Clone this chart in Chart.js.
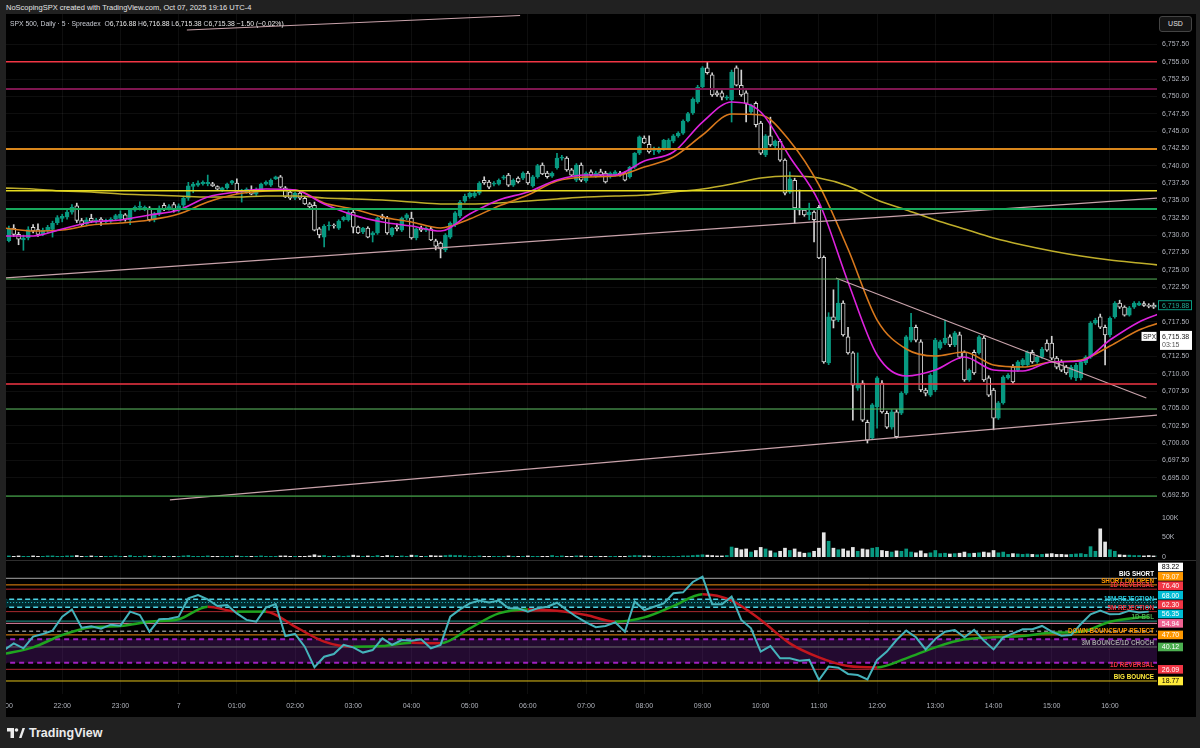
<!DOCTYPE html>
<html>
<head>
<meta charset="utf-8">
<title>SPX 500 5m</title>
<script src="https://cdn.jsdelivr.net/npm/chart.js@4.4.1/dist/chart.umd.min.js"></script>
<style>
  html, body { margin: 0; padding: 0; }
  body { width: 1200px; height: 748px; background: #212121; position: relative; overflow: hidden;
         font-family: 'Liberation Sans', Arial, sans-serif; }
  #credit { position: absolute; left: 6px; top: 3px; font-size: 7.5px; line-height: 9px; color: #e4e4e4; }
  #frame { position: absolute; left: 6px; top: 14px; width: 1190px; height: 703px; background: #000; }
  #priceBox { position: absolute; left: 0; top: 0; width: 1190px; height: 546px; }
  #sep { position: absolute; left: 0; top: 546px; width: 1190px; height: 1px; background: #2e2e2e; }
  #rsiBox { position: absolute; left: 0; top: 547px; width: 1190px; height: 156px; }
  #legend { position: absolute; left: 4px; top: 5px; font-size: 6.8px; line-height: 9px; color: #c9ccd4; white-space: pre; }
  #legend b { font-weight: normal; color: #e8e8e8; }
  #usd { position: absolute; left: 1153px; top: 2px; width: 31px; height: 14px; border: 1px solid #444; border-radius: 3px;
         background: #151515; color: #e0e0e0; font-size: 7px; line-height: 14px; text-align: center; }
  #footer { position: absolute; left: 7px; top: 725px; height: 16px; display: flex; align-items: center; gap: 4px;
            color: #ececec; font-size: 12.5px; font-weight: bold; }
</style>
</head>
<body>
<div id="credit">NoScopingSPX created with TradingView.com, Oct 07, 2025 19:16 UTC-4</div>
<div id="frame">
  <div id="priceBox"><canvas id="priceChart" width="1190" height="546"></canvas></div>
  <div id="sep"></div>
  <div id="rsiBox"><canvas id="rsiChart" width="1190" height="156"></canvas></div>
  <div id="legend">SPX 500, Daily · 5 · Spreadex  O<b>6,716.88</b> H<b>6,716.88</b> L<b>6,715.38</b> C<b>6,715.38</b> <b>−1.50 (−0.02%)</b></div>
  <div id="usd">USD</div>
</div>
<div id="footer">
  <svg width="18" height="10" viewBox="0 0 36 20"><path d="M0 0h14v20H7V7H0z" fill="#ececec"/><circle cx="19" cy="4" r="3.6" fill="#ececec"/><path d="M24 20L31 0h5l-7 20z" fill="#ececec"/></svg>
  <span>TradingView</span>
</div>
<script>
// time axis: candle index (5 min each), hour labels
const hourTicks = [0, 12, 24, 36, 48, 60, 72, 84, 96, 108, 120, 132, 144, 156, 168, 180, 192, 204, 216, 228];
const hourLabels = ['21:00', '22:00', '23:00', '7', '01:00', '02:00', '03:00', '04:00', '05:00', '06:00',
                    '07:00', '08:00', '09:00', '10:00', '11:00', '12:00', '13:00', '14:00', '15:00', '16:00'];

const priceTicks = [6757.5, 6755, 6752.5, 6750, 6747.5, 6745, 6742.5, 6740, 6737.5, 6735, 6732.5, 6730, 6727.5,
                    6725, 6722.5, 6720, 6717.5, 6715, 6712.5, 6710, 6707.5, 6705, 6702.5, 6700, 6697.5, 6695, 6692.5];

// [open, high, low, close], one row per 5 minute candle starting 21:05
const ohlc = [
  // 21:05
  [6729.2,6731.3,6729.0,6730.9],[6731.0,6731.5,6729.8,6730.1],[6730.1,6730.4,6728.6,6729.4],[6729.3,6730.0,6727.8,6729.6],[6729.6,6731.2,6729.3,6730.8],[6731.1,6731.5,6730.3,6730.6],[6730.8,6731.6,6729.8,6730.1],[6730.2,6731.0,6729.9,6730.7],[6730.6,6731.4,6730.3,6731.1],[6730.8,6732.0,6729.7,6731.7],[6731.8,6732.8,6731.5,6732.5],
  // 22:00
  [6732.4,6733.0,6731.9,6732.7],[6732.6,6733.6,6732.3,6733.3],[6733.3,6734.4,6733.0,6734.0],[6734.2,6734.6,6731.8,6732.1],[6732.1,6732.4,6731.2,6731.5],[6731.6,6732.5,6731.4,6732.2],[6732.4,6733.0,6731.8,6732.0],[6731.9,6732.4,6731.7,6732.2],[6732.3,6732.5,6731.4,6731.9],[6731.9,6732.3,6731.7,6732.1],[6732.0,6732.5,6731.8,6732.3],[6732.3,6733.0,6732.1,6732.8],
  // 23:00
  [6732.4,6733.5,6732.0,6733.0],[6732.9,6733.1,6732.0,6732.3],[6732.2,6733.8,6731.5,6733.6],[6733.6,6734.2,6733.4,6734.0],[6734.0,6734.8,6733.6,6734.1],[6733.7,6734.2,6733.5,6734.0],[6733.9,6734.1,6732.0,6732.2],[6732.2,6733.3,6731.9,6733.1],[6733.0,6734.2,6732.8,6733.9],[6734.3,6734.6,6733.5,6733.8],[6733.8,6734.4,6733.6,6734.1],[6734.4,6734.7,6733.3,6733.6],
  // 00:00
  [6733.6,6734.5,6733.3,6734.2],[6734.3,6735.6,6734.0,6735.3],[6735.3,6737.6,6735.0,6737.1],[6737.0,6737.6,6736.1,6737.3],[6737.2,6737.8,6737.0,6737.5],[6737.4,6737.8,6737.2,6737.6],[6737.4,6738.65,6737.1,6737.6],[6737.4,6737.6,6737.0,6737.1],[6737.0,6737.1,6736.5,6736.6],[6736.5,6736.9,6736.3,6736.8],[6736.8,6737.5,6736.6,6737.35],[6737.5,6737.9,6737.3,6737.8],
  // 01:00
  [6737.5,6738.1,6736.0,6736.2],[6736.2,6736.6,6734.75,6736.5],[6736.2,6736.8,6736.0,6736.6],[6736.5,6737.1,6735.8,6735.9],[6735.9,6736.8,6735.7,6736.6],[6736.5,6737.5,6736.3,6737.35],[6737.35,6737.8,6737.2,6737.65],[6737.2,6738.1,6737.0,6737.9],[6738.1,6738.5,6738.0,6738.4],[6738.4,6738.6,6736.8,6736.9],[6736.8,6737.0,6735.4,6735.5],[6736.2,6736.4,6735.1,6735.3],
  // 02:00
  [6735.3,6736.2,6735.1,6736.05],[6736.05,6736.3,6735.1,6735.3],[6735.3,6735.5,6734.4,6734.5],[6734.5,6734.7,6733.7,6734.05],[6734.3,6734.75,6730.6,6730.7],[6730.9,6731.1,6729.6,6730.0],[6729.7,6731.5,6728.3,6731.3],[6731.3,6731.9,6730.7,6731.4],[6731.4,6731.6,6731.0,6731.3],[6731.0,6732.2,6730.8,6732.0],[6732.2,6732.7,6732.0,6732.6],[6732.2,6733.5,6732.0,6733.3],
  // 03:00
  [6733.3,6733.6,6730.3,6731.15],[6731.15,6731.3,6730.2,6730.3],[6730.45,6731.1,6730.2,6731.0],[6731.0,6731.2,6729.6,6729.7],[6730.0,6730.5,6729.0,6730.3],[6730.3,6732.6,6730.1,6732.45],[6732.75,6733.0,6732.3,6732.45],[6732.45,6732.7,6730.1,6730.3],[6730.0,6731.1,6729.8,6731.0],[6731.15,6731.6,6730.6,6730.9],[6730.7,6732.6,6730.5,6732.45],[6732.45,6733.1,6732.2,6732.9],
  // 04:00
  [6732.45,6733.3,6729.4,6729.6],[6729.6,6731.0,6729.3,6730.9],[6731.0,6731.3,6730.5,6730.7],[6730.7,6731.2,6730.5,6731.0],[6730.9,6731.1,6729.2,6729.3],[6729.15,6729.4,6727.85,6728.4],[6728.85,6729.0,6726.7,6728.0],[6727.85,6730.2,6727.6,6730.0],[6729.7,6731.9,6729.5,6731.7],[6731.45,6733.4,6731.2,6733.2],[6732.75,6735.0,6732.5,6734.75],[6734.9,6735.9,6734.7,6735.6],
  // 05:00
  [6735.5,6736.2,6735.3,6736.05],[6735.6,6736.3,6735.4,6736.05],[6736.05,6737.7,6735.8,6737.5],[6737.9,6738.4,6737.3,6737.5],[6737.65,6737.9,6736.7,6736.9],[6737.35,6737.7,6737.1,6737.5],[6737.35,6738.1,6737.2,6737.9],[6738.2,6738.6,6738.0,6738.4],[6738.65,6738.9,6737.0,6737.2],[6737.2,6738.1,6737.0,6737.9],[6738.2,6738.4,6737.5,6737.65],[6738.2,6739.1,6738.0,6738.95],
  // 06:00
  [6738.95,6739.2,6737.3,6737.5],[6737.1,6738.6,6736.9,6738.4],[6738.4,6740.2,6738.2,6740.0],[6740.1,6740.4,6738.7,6738.8],[6738.95,6739.2,6738.2,6738.4],[6738.5,6739.1,6738.3,6738.95],[6739.7,6741.8,6739.5,6741.1],[6741.1,6741.5,6740.8,6741.2],[6741.1,6741.3,6739.2,6739.4],[6739.4,6739.6,6738.5,6738.65],[6737.9,6740.3,6737.7,6740.1],[6740.1,6740.4,6737.7,6737.9],
  // 07:00
  [6737.8,6739.1,6737.6,6738.95],[6739.1,6739.4,6738.5,6738.65],[6738.5,6739.2,6738.3,6738.95],[6739.1,6739.5,6738.5,6738.65],[6738.95,6739.2,6737.5,6737.65],[6738.4,6739.1,6738.2,6738.95],[6738.65,6739.3,6738.5,6739.1],[6738.95,6739.2,6738.5,6738.65],[6738.95,6739.1,6737.8,6737.9],[6738.4,6739.9,6738.2,6739.8],[6739.8,6741.9,6739.6,6741.8],[6741.8,6744.3,6741.6,6744.15],
  // 08:00
  [6744.0,6744.3,6743.2,6743.3],[6743.1,6744.3,6741.8,6742.0],[6742.2,6742.7,6741.6,6742.5],[6742.0,6742.7,6741.8,6742.55],[6742.4,6743.8,6742.2,6743.7],[6742.55,6743.9,6742.3,6743.7],[6743.55,6744.5,6743.3,6744.3],[6744.3,6744.9,6744.1,6744.7],[6744.7,6746.6,6744.5,6746.45],[6746.45,6747.7,6746.3,6747.5],[6747.6,6749.8,6747.4,6749.6],[6749.2,6751.6,6749.0,6751.35],
  // 09:00
  [6751.35,6754.3,6751.1,6754.1],[6754.1,6755.0,6753.2,6753.4],[6753.1,6753.4,6750.0,6750.2],[6750.5,6750.8,6750.0,6750.2],[6750.5,6750.8,6749.5,6749.9],[6749.75,6750.1,6749.5,6749.9],[6749.5,6753.8,6746.3,6753.5],[6754.1,6754.4,6751.5,6751.6],[6751.6,6753.8,6750.0,6750.2],[6750.5,6750.8,6746.3,6749.0],[6747.75,6748.9,6747.5,6748.75],[6749.0,6749.2,6745.6,6745.9],
  // 10:00
  [6746.15,6746.4,6741.6,6741.8],[6741.55,6744.5,6741.3,6744.3],[6744.3,6747.0,6742.8,6743.0],[6742.85,6743.7,6742.6,6743.55],[6743.55,6743.8,6740.6,6740.8],[6740.8,6741.0,6735.8,6736.05],[6736.2,6739.1,6736.0,6738.1],[6737.9,6738.2,6731.7,6733.9],[6733.9,6736.5,6732.9,6733.6],[6733.6,6733.8,6732.7,6732.9],[6732.9,6734.6,6732.2,6733.3],[6733.3,6733.5,6729.0,6732.2],
  // 11:00
  [6734.0,6734.3,6726.6,6726.7],[6726.8,6727.0,6711.5,6711.7],[6711.55,6718.8,6711.3,6718.2],[6718.2,6722.1,6716.6,6717.7],[6717.75,6723.5,6717.5,6720.2],[6720.2,6720.5,6715.4,6715.6],[6715.3,6716.7,6712.8,6713.0],[6713.0,6713.2,6703.3,6708.35],[6707.9,6713.0,6707.6,6708.65],[6708.65,6709.0,6703.1,6703.3],[6703.0,6703.3,6700.0,6700.4],[6700.7,6705.7,6700.5,6705.5],
  // 12:00
  [6705.2,6709.6,6702.15,6709.4],[6708.65,6709.0,6704.3,6704.5],[6704.3,6704.6,6702.1,6702.3],[6702.3,6704.8,6702.0,6704.5],[6704.5,6704.8,6700.7,6700.9],[6704.3,6707.4,6704.1,6707.2],[6707.2,6715.5,6707.0,6715.3],[6714.85,6718.7,6714.6,6716.7],[6716.7,6717.0,6714.6,6714.85],[6714.6,6714.9,6707.4,6707.65],[6707.65,6707.9,6706.8,6707.2],[6706.9,6710.0,6706.7,6709.8],
  // 13:00
  [6707.65,6715.1,6707.4,6714.85],[6713.7,6714.8,6713.5,6714.6],[6714.4,6717.75,6714.2,6715.15],[6715.3,6715.6,6713.9,6714.15],[6714.15,6716.1,6713.9,6715.9],[6715.6,6716.0,6712.2,6712.4],[6713.1,6713.3,6708.9,6709.1],[6709.1,6710.7,6708.9,6710.5],[6713.1,6713.4,6709.9,6710.1],[6713.0,6715.5,6712.8,6715.3],[6715.15,6715.4,6708.9,6709.1],[6709.4,6709.7,6706.7,6706.9],
  // 14:00
  [6707.65,6707.9,6701.9,6703.6],[6703.6,6706.0,6703.4,6705.8],[6705.8,6709.7,6705.6,6709.5],[6709.4,6710.0,6709.2,6709.8],[6710.95,6711.3,6708.6,6708.8],[6710.5,6711.9,6710.3,6711.7],[6711.25,6712.2,6711.0,6712.0],[6711.25,6713.3,6711.0,6713.1],[6713.1,6713.4,6711.5,6711.7],[6711.7,6712.6,6711.5,6712.4],[6712.4,6713.8,6712.2,6713.55],[6714.4,6714.9,6713.2,6713.4],
  // 15:00
  [6714.4,6715.4,6712.0,6712.25],[6712.25,6712.5,6710.7,6710.95],[6711.7,6712.0,6710.3,6710.5],[6710.95,6711.2,6709.9,6710.1],[6709.5,6711.2,6709.2,6710.95],[6709.4,6711.5,6709.0,6711.25],[6709.4,6711.9,6709.1,6711.7],[6711.55,6712.6,6711.3,6712.4],[6712.4,6717.5,6712.2,6717.3],[6717.3,6718.0,6717.1,6717.75],[6718.2,6718.6,6716.5,6716.7],[6716.7,6717.0,6711.25,6715.6],
  // 16:00
  [6715.6,6718.2,6715.3,6718.0],[6718.2,6720.4,6718.0,6720.2],[6720.2,6720.6,6719.4,6719.6],[6719.6,6719.8,6718.3,6718.45],[6718.45,6719.7,6718.3,6719.5],[6719.6,6720.4,6719.4,6720.2],[6719.9,6720.4,6719.8,6720.2],[6720.1,6720.4,6719.7,6719.85],[6719.85,6720.1,6719.5,6719.7],[6719.9,6720.2,6719.4,6719.6],[6719.6,6720.3,6719.5,6719.88]
];

// volume in thousands, same candles
const volumes = [
  2,1,2,1,1,2,1,1,2,2,1,
  1,2,2,3,1,1,2,1,1,1,1,2,
  1,1,3,1,1,2,1,2,1,1,1,1,
  1,2,3,1,1,1,2,1,1,1,1,1,
  2,1,1,1,1,2,1,1,1,2,2,1,
  1,1,1,2,5,2,3,1,1,2,1,2,
  4,2,1,2,1,3,1,3,2,1,2,1,
  4,3,1,1,3,2,2,3,4,3,3,2,
  1,1,2,1,1,1,1,1,2,1,1,1,
  2,1,1,1,1,3,1,2,1,1,2,2,
  1,1,1,1,1,1,1,1,1,2,3,3,
  2,2,1,1,1,1,1,1,2,2,3,4,
  5,4,3,2,2,3,25,22,18,20,12,16,
  24,20,15,10,14,22,16,20,12,9,10,14,
  22,62,40,22,18,20,15,24,14,20,18,22,
  24,16,14,12,15,14,20,12,10,15,8,10,
  16,8,9,7,8,9,12,8,9,10,12,10,
  16,10,12,6,8,7,6,7,6,5,6,7,
  8,6,6,5,6,7,8,6,26,14,72,38,
  18,14,5,4,4,3,3,2,3,2,2
];
const volTicks = [0, 50, 100];
const volTickLabels = ['0', '50K', '100K'];

// moving averages, read every 6 candles
const maIdx = [0,6,12,18,24,30,36,42,48,54,60,66,72,78,84,90,96,102,108,114,120,126,132,138,144,150,156,162,168,174,180,186,192,198,204,210,216,222,228,234,238];
const maFast = [6729.86,6729.86,6730.87,6731.88,6732.17,6732.89,6733.61,6735.48,6736.21,6736.64,6736.49,6734.48,6732.89,6731.88,6731.30,6730.58,6733.03,6735.05,6736.21,6737.94,6738.66,6738.66,6740.68,6741.98,6746.30,6749.19,6747.75,6741.25,6734.76,6723.23,6712.70,6709.67,6710.53,6712.41,6710.53,6710.39,6711.69,6711.83,6714.86,6717.46,6718.61];
const maSlow = [6731.01,6730.58,6730.72,6731.45,6731.73,6732.17,6733.03,6734.76,6735.92,6736.35,6736.49,6734.62,6733.75,6732.60,6731.88,6731.01,6732.31,6734.19,6735.77,6737.79,6738.37,6738.51,6739.81,6741.25,6744.43,6747.46,6747.31,6743.56,6737.22,6727.99,6717.74,6713.56,6712.55,6713.13,6711.25,6710.96,6711.69,6711.97,6713.99,6716.30,6717.31];
const maLong = [6736.78,6736.64,6736.35,6736.21,6735.92,6735.77,6735.63,6735.48,6735.48,6735.63,6735.63,6735.34,6735.20,6735.05,6734.76,6734.48,6734.48,6734.62,6734.91,6735.20,6735.48,6735.63,6735.77,6736.21,6736.64,6737.36,6738.23,6738.51,6738.23,6737.07,6735.05,6733.61,6732.17,6730.87,6729.57,6728.56,6727.70,6726.97,6726.40,6725.96,6725.68];

// horizontal price levels and trendlines [idx0, price0, idx1, price1]
const hLevels = [6755.0, 6751.05, 6742.4, 6736.4, 6733.75, 6723.65, 6708.5, 6704.9, 6692.35];
const trendLines = [
  [0, 6723.8, 238, 6735.35],
  [34.2, 6691.8, 238, 6704.05],
  [171.5, 6723.8, 235.5, 6706.5],
  [37.7, 6759.57, 106.4, 6761.66]
];
const spxPrice = 6715.38;
const spxTimer = '03:15';

// RSI every 2 candles and its average every 6
const rsiVals = [
  38.2,42.4,39.3,46.6,48.3,50.4,59.1,63.7,52.2,53.1,51.6,54.1,
  53.5,62.3,60.2,49.7,57.5,57.9,59.1,70.6,72.7,70.0,65.8,66.5,
  61.2,57.1,56.0,64.8,67.1,47.0,48.3,40.3,27.4,34.0,35.7,41.4,
  39.9,36.6,38.2,45.5,41.4,44.5,44.1,44.9,39.3,41.4,59.1,63.7,
  67.5,69.2,68.1,69.2,64.4,64.4,62.3,64.4,65.4,67.9,63.3,59.1,
  55.6,52.5,53.3,55.6,49.7,68.6,63.3,65.4,67.5,73.8,74.4,80.9,
  84.2,66.9,66.9,71.7,57.1,51.8,37.2,40.7,33.0,33.0,31.5,32.0,
  19.4,27.8,27.1,23.2,22.5,19.8,32.0,37.2,44.5,50.4,46.2,38.6,
  45.1,49.7,50.8,46.2,50.8,44.1,38.6,46.2,48.7,51.2,51.2,53.3,
  49.7,47.2,47.6,54.5,60.6,62.9,60.6,60.8,62.9,61.7,62.3
];
const rsiIdx = rsiVals.map((_, k) => k * 2);
const rsiMaIdx = [0,6,12,18,24,30,36,42,48,54,60,66,72,78,84,90,96,102,108,114,120,126,132,138,144,150,156,162,168,174,180,186,192,198,204,210,216,222,228,234,236];
const rsiMa = [35.7,39.9,47.6,52.5,53.3,56.0,57.5,65.4,62.3,62.3,52.9,43.5,40.3,40.7,42.8,42.4,51.8,61.2,63.7,62.9,60.2,56.0,58.7,65.8,73.2,69.2,57.1,42.4,33.6,28.2,27.3,33.0,39.9,44.9,46.2,47.0,49.1,49.7,56.0,58.7,59.1];

const rsiLevels = [83.22, 79.07, 76.40, 68.00, 62.30, 56.35, 54.94, 47.70, 40.12, 26.09, 18.77];
const rsiLevelNames = ['BIG SHORT', 'SHORT ON OPEN', '1D REVERSAL', '15M REJECTION', '5M REJECTION', '1D BSL', '',
                       'DOWN BOUNCE/UP REJECT', '3M BOUNCE/1D CHOCH', '1D REVERSAL', 'BIG BOUNCE'];
const rsiBandTeal = [70, 65];
const rsiBandPurple = [45, 30.2];
const rsiMid = 50;

// ---- styles ----
const UP = '#089981', DOWN = '#d4d4d4', AXIS = '#b2b5be', GRID = 'rgba(255,255,255,0.055)';
const FONT = "'Liberation Sans', Arial, sans-serif";
const AXIS_W = 39;
const X_MIN = 0.41, X_MAX = 237.7;
const P_MIN = 6683.13, P_MAX = 6761.88;
const V_MIN = -8.53, V_MAX = 1402.4;
const R_MIN = 10.61, R_MAX = 94.07;

const hLevelStyle = [
  ['#f23645', 1.5], ['#7e1650', 2], ['#d9861c', 2], ['#e6dc1e', 1.5], ['#17a85c', 2],
  ['#58b85c', 1], ['#f23645', 1.5], ['#58b85c', 1], ['#43a047', 1.2]
];
const rsiLevelStyle = [
  {line: '#a8a8a8', text: '#ffffff', box: '#ffffff', boxText: '#000000'},
  {line: '#f08c10', text: '#ff9800', box: '#ff9800', boxText: '#ffffff'},
  {line: '#b8262e', text: '#f23645', box: '#f23645', boxText: '#ffffff'},
  {line: '#2bc4d4', text: '#26c6da', box: '#00bcd4', boxText: '#ffffff', dash: [1, 2]},
  {line: '#a82a2e', text: '#f23645', box: '#f23645', boxText: '#ffffff'},
  {line: '#1f9c92', text: '#4caf50', box: '#00bcd4', boxText: '#ffffff'},
  {line: '#e88aa8', text: '#f06292', box: '#f06292', boxText: '#ffffff'},
  {line: '#f08c10', text: '#ff9800', box: '#ff9800', boxText: '#ffffff'},
  {line: '#6a6a6a', text: '#9e9e9e', box: '#4caf50', boxText: '#ffffff'},
  {line: '#b22833', text: '#f23645', box: '#f23645', boxText: '#ffffff'},
  {line: '#e3c11a', text: '#ffeb3b', box: '#ffeb3b', boxText: '#000000'}
];

Chart.defaults.font.family = FONT;
Chart.defaults.color = AXIS;

const fmtPrice = v => v.toLocaleString('en-US', {minimumFractionDigits: 2, maximumFractionDigits: 2});
const isUp = ohlc.map(r => r[3] >= r[0]);
const candleX = ohlc.map((_, k) => k + 1);

const flatLine = (y, color, width, dash, order, yAxisID) => ({
  type: 'line', yAxisID, data: [{x: X_MIN - 1, y}, {x: X_MAX + 1, y}],
  borderColor: color, borderWidth: width, borderDash: dash || [], pointRadius: 0, fill: false, order
});
const maLine = (vals, color) => ({
  type: 'line', data: vals.map((v, k) => ({x: maIdx[k], y: v})), borderColor: color, borderWidth: 1.6,
  pointRadius: 0, fill: false, cubicInterpolationMode: 'monotone', order: 2
});

const priceOverlay = {
  id: 'priceOverlay',
  afterDraw(chart) {
    const {ctx, scales: {y, yv}} = chart;
    ctx.save();
    ctx.font = '7px ' + FONT;
    ctx.textBaseline = 'middle';
    ctx.textAlign = 'left';
    ctx.fillStyle = AXIS;
    volTicks.forEach((v, k) => ctx.fillText(volTickLabels[k], y.left + 5, yv.getPixelForValue(v)));

    const last = ohlc[ohlc.length - 1][3];
    const ly = y.getPixelForValue(last);
    ctx.fillStyle = '#000';
    ctx.fillRect(y.left + 1, ly - 5, 34, 10);
    ctx.strokeStyle = UP;
    ctx.lineWidth = 1;
    ctx.strokeRect(y.left + 1.5, ly - 4.5, 33, 9);
    ctx.fillStyle = '#22ab94';
    ctx.fillText(fmtPrice(last), y.left + 5, ly + 0.5);

    const sy = y.getPixelForValue(spxPrice);
    ctx.fillStyle = '#ffffff';
    ctx.fillRect(y.left + 3, sy - 5.5, 32, 19);
    ctx.fillRect(y.left - 15.5, sy - 4.5, 15, 9);
    ctx.fillStyle = '#222';
    ctx.fillText(fmtPrice(spxPrice), y.left + 5, sy + 0.5);
    ctx.fillStyle = '#555';
    ctx.fillText(spxTimer, y.left + 5, sy + 8.5);
    ctx.fillStyle = '#222';
    ctx.font = '6.5px ' + FONT;
    ctx.fillText('SPX', y.left - 14, sy + 0.5);
    ctx.restore();
  }
};

new Chart(document.getElementById('priceChart'), {
  type: 'bar',
  data: {
    datasets: [
      ...hLevels.map((p, k) => flatLine(p, hLevelStyle[k][0], hLevelStyle[k][1], null, 1, 'y')),
      ...trendLines.map(t => ({
        type: 'line', data: [{x: t[0], y: t[1]}, {x: t[2], y: t[3]}], borderColor: '#c9a3ab',
        borderWidth: 1.2, pointRadius: 0, fill: false, order: 1
      })),
      maLine(maFast, '#dd22dd'),
      maLine(maSlow, '#d8781c'),
      maLine(maLong, '#bfae2a'),
      {
        type: 'bar', data: ohlc.map((r, k) => ({x: candleX[k], y: [r[0], r[3]]})),
        backgroundColor: isUp.map(u => u ? UP : '#000'), borderColor: isUp.map(u => u ? UP : DOWN),
        borderWidth: 1, borderSkipped: false, barThickness: 4, minBarLength: 1, grouped: false, order: 3
      },
      {
        type: 'bar', data: ohlc.map((r, k) => ({x: candleX[k], y: [r[2], r[1]]})),
        backgroundColor: isUp.map(u => u ? UP : DOWN), barThickness: 1, grouped: false, order: 4
      },
      {
        type: 'bar', yAxisID: 'yv', data: volumes.map((v, k) => ({x: candleX[k], y: v})),
        backgroundColor: isUp.map(u => u ? UP : '#e6e6e6'), barThickness: 3, grouped: false, order: 5
      }
    ]
  },
  options: {
    responsive: false, animation: false, events: [],
    layout: {padding: 0, autoPadding: false},
    plugins: {legend: {display: false}, tooltip: {enabled: false}},
    scales: {
      x: {
        type: 'linear', min: X_MIN, max: X_MAX, offset: false,
        grid: {color: GRID, drawTicks: false, offset: false}, border: {display: false},
        ticks: {display: false},
        afterBuildTicks: s => { s.ticks = hourTicks.map(v => ({value: v})); },
        afterFit: s => { s.height = 0; s.paddingLeft = 0; s.paddingRight = 0; }
      },
      y: {
        position: 'right', min: P_MIN, max: P_MAX,
        grid: {color: GRID, drawTicks: false}, border: {display: false},
        ticks: {color: AXIS, font: {size: 7}, padding: 5, callback: v => fmtPrice(v)},
        afterBuildTicks: s => { s.ticks = priceTicks.map(v => ({value: v})); },
        afterFit: s => { s.width = AXIS_W; s.paddingTop = 0; s.paddingBottom = 0; }
      },
      yv: {display: false, min: V_MIN, max: V_MAX}
    }
  },
  plugins: [priceOverlay]
});

const rsiOverlay = {
  id: 'rsiOverlay',
  afterDraw(chart) {
    const {ctx, chartArea: a, scales: {yr}} = chart;
    ctx.save();
    ctx.font = 'bold 6.3px ' + FONT;
    ctx.textAlign = 'right';
    ctx.textBaseline = 'alphabetic';
    rsiLevels.forEach((v, k) => {
      if (!rsiLevelNames[k]) return;
      ctx.fillStyle = rsiLevelStyle[k].text;
      ctx.fillText(rsiLevelNames[k], a.right - 3, yr.getPixelForValue(v) - 2);
    });
    const H = 9.4;
    const ys = rsiLevels.map(v => yr.getPixelForValue(v));
    for (let k = ys.length - 2; k >= 0; k--) ys[k] = Math.min(ys[k], ys[k + 1] - H);
    ctx.font = '7px ' + FONT;
    ctx.textAlign = 'center';
    ctx.textBaseline = 'middle';
    rsiLevels.forEach((v, k) => {
      const st = rsiLevelStyle[k];
      ctx.fillStyle = st.box;
      ctx.fillRect(a.right + 1, ys[k] - H / 2 + 0.4, 25, H - 0.8);
      ctx.fillStyle = st.boxText;
      ctx.fillText(v.toFixed(2), a.right + 13.5, ys[k] + 0.5);
    });
    ctx.restore();
  }
};

new Chart(document.getElementById('rsiChart'), {
  type: 'line',
  data: {
    datasets: [
      {data: rsiVals.map((v, k) => ({x: rsiIdx[k], y: v})), yAxisID: 'yr', borderColor: '#45b3bb',
       borderWidth: 2, pointRadius: 0, fill: false, order: 1},
      {data: rsiMa.map((v, k) => ({x: rsiMaIdx[k], y: v})), yAxisID: 'yr', borderWidth: 2.5, pointRadius: 0,
       fill: false, cubicInterpolationMode: 'monotone', order: 2,
       segment: {borderColor: c => c.p1.parsed.y >= c.p0.parsed.y ? '#1fa51f' : '#c2161d'}},
      ...rsiLevels.map((v, k) => flatLine(v, rsiLevelStyle[k].line, 1, rsiLevelStyle[k].dash, 5, 'yr')),
      flatLine(rsiMid, '#8a8a8a', 1.5, [4, 3], 5, 'yr'),
      flatLine(rsiBandTeal[0], '#4dd0e1', 1.5, [5, 3], 6, 'yr'),
      Object.assign(flatLine(rsiBandTeal[1], '#4dd0e1', 1.5, [5, 3], 6, 'yr'),
                    {fill: '-1', backgroundColor: 'rgba(0,190,210,0.22)'}),
      flatLine(rsiBandPurple[0], '#a020c0', 2, [5, 4], 6, 'yr'),
      Object.assign(flatLine(rsiBandPurple[1], '#a020c0', 2, [5, 4], 6, 'yr'),
                    {fill: '-1', backgroundColor: 'rgba(110,30,150,0.32)'})
    ]
  },
  options: {
    responsive: false, animation: false, events: [],
    layout: {padding: 0, autoPadding: false},
    plugins: {legend: {display: false}, tooltip: {enabled: false}},
    scales: {
      x: {
        type: 'linear', min: X_MIN, max: X_MAX, offset: false,
        grid: {color: GRID, drawTicks: false}, border: {display: false},
        ticks: {color: AXIS, font: {size: 7}, padding: 8, autoSkip: false, maxRotation: 0,
                callback: v => hourLabels[hourTicks.indexOf(v)]},
        afterBuildTicks: s => { s.ticks = hourTicks.map(v => ({value: v})); },
        afterFit: s => { s.height = 23; s.paddingLeft = 0; s.paddingRight = 0; }
      },
      yr: {
        position: 'right', min: R_MIN, max: R_MAX,
        grid: {display: false}, border: {display: false}, ticks: {display: false},
        afterFit: s => { s.width = AXIS_W; s.paddingTop = 0; s.paddingBottom = 0; }
      }
    }
  },
  plugins: [rsiOverlay]
});
</script>
</body>
</html>
